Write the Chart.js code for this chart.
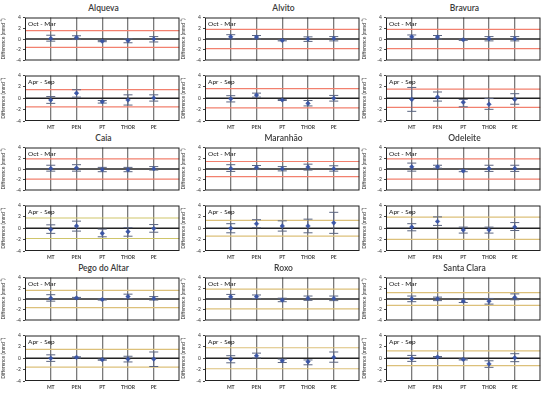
<!DOCTYPE html>
<html lang="en">
<head>
    <meta charset="UTF-8">
    <title>Difference per reservoir</title>
    <script src="https://cdn.jsdelivr.net/npm/chart.js"></script>
    <style>
        body {
            margin: 0;
            background-color: #ffffff;
            width: 550px;
            height: 396px;
            position: relative;
            overflow: hidden;
            font-family: Lato, "Open Sans", sans-serif;
        }
        canvas {
            position: absolute;
        }
        .title {
            position: absolute;
            width: 157px;
            text-align: center;
            font-size: 8.5px;
            font-weight: 600;
            color: #3a3a3a;
            line-height: 10px;
        }
    </style>
</head>
<body>
    <script>
        // categorias e sitios
        const categories = ['MT', 'PEN', 'PT', 'THOR', 'PE'];
        const sites = ['Alqueva', 'Alvito', 'Bravura', 'Caia', 'Maranhão', 'Odeleite', 'Pego do Altar', 'Roxo', 'Santa Clara'];
        const seasons = ['Oct - Mar', 'Apr - Sep'];

        // Oct - Mar: media, max, min por sitio
        const meanOctMar = [
            [0.1, 0.3, -0.4, -0.3, 0.0],
            [0.4, 0.35, -0.25, 0.0, 0.1],
            [0.4, 0.35, -0.15, 0.05, 0.05],
            [0.1, 0.2, -0.1, -0.15, 0.05],
            [0.1, 0.3, 0.05, 0.35, 0.05],
            [0.4, 0.4, -0.35, 0.1, 0.1],
            [0.15, 0.2, -0.1, 0.45, 0.1],
            [0.4, 0.45, -0.2, 0.15, 0.1],
            [0.05, 0.05, -0.4, -0.4, 0.3]
        ];
        const hiOctMar = [
            [0.7, 0.6, -0.25, 0.05, 0.45],
            [0.8, 0.65, -0.15, 0.4, 0.45],
            [0.75, 0.65, -0.05, 0.45, 0.45],
            [0.7, 0.8, 0.3, 0.3, 0.45],
            [0.8, 0.65, 0.45, 0.9, 0.6],
            [1.1, 0.7, -0.1, 0.7, 0.7],
            [0.8, 0.3, 0.0, 0.9, 0.45],
            [0.85, 0.75, 0.15, 0.55, 0.55],
            [0.55, 0.35, -0.05, 0.1, 0.95]
        ];
        const loOctMar = [
            [-0.4, -0.1, -0.5, -0.7, -0.55],
            [0.0, 0.0, -0.35, -0.45, -0.35],
            [0.1, 0.0, -0.25, -0.35, -0.35],
            [-0.4, -0.4, -0.5, -0.5, -0.2],
            [-0.45, -0.1, -0.35, -0.2, -0.4],
            [-0.4, 0.15, -0.5, -0.45, -0.45],
            [-0.4, 0.1, -0.2, 0.05, -0.2],
            [-0.05, 0.1, -0.5, -0.25, -0.3],
            [-0.5, -0.3, -0.65, -0.95, -0.15]
        ];

        // Apr - Sep: media, max, min por sitio
        const meanAprSep = [
            [-0.3, 0.9, -0.6, -0.3, 0.05],
            [-0.1, 0.55, -0.3, -0.9, 0.0],
            [-0.2, 0.2, -0.7, -1.05, -0.2],
            [-0.2, 0.4, -0.9, -0.6, -0.05],
            [0.0, 0.8, 0.4, 0.4, 0.95],
            [0.2, 1.2, -0.3, -0.3, 0.2],
            [0.0, 0.15, -0.25, -0.15, -0.15],
            [-0.15, 0.45, -0.45, -0.6, 0.15],
            [-0.05, 0.2, -0.2, -1.0, 0.1]
        ];
        const hiAprSep = [
            [0.3, 1.5, -0.4, 0.6, 0.6],
            [0.45, 0.9, -0.2, -0.4, 0.5],
            [1.9, 1.1, -0.2, -0.05, 0.8],
            [0.6, 1.25, -0.15, 0.1, 0.65],
            [0.8, 1.5, 1.3, 1.6, 2.8],
            [0.8, 2.0, 0.2, 0.2, 1.0],
            [0.6, 0.25, -0.15, 0.35, 1.1],
            [0.45, 0.9, -0.15, -0.3, 1.1],
            [0.5, 0.3, -0.1, -0.45, 0.8]
        ];
        const loAprSep = [
            [-0.9, 0.2, -0.85, -1.2, -0.5],
            [-0.65, 0.2, -0.4, -1.35, -0.5],
            [-2.3, -0.5, -1.5, -1.95, -1.05],
            [-0.9, -0.5, -1.5, -1.4, -0.7],
            [-0.8, 0.1, -0.5, -0.8, -0.9],
            [-0.45, 0.5, -0.85, -0.85, -0.4],
            [-0.55, 0.05, -0.35, -0.65, -1.45],
            [-0.8, 0.05, -0.75, -1.15, -0.7],
            [-0.55, 0.1, -0.3, -1.6, -0.6]
        ];

        // limites (linhas horizontais +/-)
        const limitOctMar = [1.55, 1.8, 1.8, 1.9, 1.4, 1.9, 1.6, 1.85, 1.2];
        const limitAprSep = [1.5, 1.7, 1.6, 1.8, 1.4, 1.95, 1.55, 1.85, 1.3];

        // cores das linhas de limite
        const RED = '#f2806e';
        const TAN = '#dcc07a';
        const OLIVE = '#cfc56a';
        const colourOctMar = [RED, RED, RED, RED, RED, RED, TAN, TAN, TAN];
        const colourAprSep = [RED, RED, RED, OLIVE, TAN, TAN, TAN, TAN, TAN];

        // posicoes do layout
        const colLeft = [25, 205, 386];
        const rowTop = [15, 145, 275];
        const plotW = 157;
        const plotH = 48;
        const subGap = 10;

        // moldura + rotulo da estacao
        const framePlugin = {
            id: 'frame',
            afterDraw(chart, args, opts) {
                const a = chart.chartArea;
                const c = chart.ctx;
                c.save();
                c.strokeStyle = '#222';
                c.lineWidth = 1;
                c.strokeRect(a.left + 0.5, a.top + 0.5, a.right - a.left - 1, a.bottom - a.top - 1);
                c.fillStyle = '#111';
                c.font = '6.5px Lato, sans-serif';
                c.textBaseline = 'top';
                c.fillText(opts.label, a.left + 3, a.top + 3);
                c.restore();
            }
        };

        function makeSub(siteIdx, seasonIdx, left, top, isBottom) {
            const mean = seasonIdx === 0 ? meanOctMar[siteIdx] : meanAprSep[siteIdx];
            const hi = seasonIdx === 0 ? hiOctMar[siteIdx] : hiAprSep[siteIdx];
            const lo = seasonIdx === 0 ? loOctMar[siteIdx] : loAprSep[siteIdx];
            const lim = seasonIdx === 0 ? limitOctMar[siteIdx] : limitAprSep[siteIdx];
            const limColour = seasonIdx === 0 ? colourOctMar[siteIdx] : colourAprSep[siteIdx];

            const xh = isBottom ? 12 : 3;
            const canvas = document.createElement('canvas');
            canvas.width = 25 + plotW + 3;
            canvas.height = 3 + plotH + xh;
            canvas.style.left = (left - 25) + 'px';
            canvas.style.top = (top - 3) + 'px';
            document.body.appendChild(canvas);

            const meanPts = mean.map((v, i) => ({ x: i + 1, y: v }));
            const barPts = [];
            categories.forEach((c, i) => {
                barPts.push({ x: i + 1, y: lo[i] });
                barPts.push({ x: i + 1, y: hi[i] });
                barPts.push({ x: i + 1, y: null });
            });

            new Chart(canvas.getContext('2d'), {
                type: 'scatter',
                data: {
                    datasets: [
                        {
                            data: meanPts,
                            pointStyle: 'rectRot',
                            pointRadius: 2.3,
                            backgroundColor: '#3a55a5',
                            borderColor: '#3a55a5',
                            borderWidth: 0.5
                        },
                        {
                            data: barPts,
                            showLine: true,
                            spanGaps: false,
                            borderColor: '#5b6580',
                            borderWidth: 1,
                            pointStyle: 'line',
                            pointRadius: 4.5,
                            pointBorderColor: '#5b6580',
                            pointBorderWidth: 1
                        },
                        {
                            data: [{ x: 0, y: 0 }, { x: 6, y: 0 }],
                            showLine: true,
                            borderColor: '#222',
                            borderWidth: 1.6,
                            pointRadius: 0
                        },
                        {
                            data: [{ x: 0, y: lim }, { x: 6, y: lim }],
                            showLine: true,
                            borderColor: limColour,
                            borderWidth: 1.2,
                            pointRadius: 0
                        },
                        {
                            data: [{ x: 0, y: -lim }, { x: 6, y: -lim }],
                            showLine: true,
                            borderColor: limColour,
                            borderWidth: 1.2,
                            pointRadius: 0
                        }
                    ]
                },
                options: {
                    responsive: false,
                    animation: false,
                    devicePixelRatio: 1,
                    layout: { padding: { top: 3, right: 3, left: 0, bottom: 0 } },
                    plugins: {
                        legend: { display: false },
                        tooltip: { enabled: false },
                        frame: { label: seasons[seasonIdx] }
                    },
                    scales: {
                        x: {
                            type: 'linear',
                            min: 0,
                            max: 6,
                            afterBuildTicks: (s) => { s.ticks = categories.map((c, i) => ({ value: i + 1 })); },
                            afterFit: (s) => { s.height = xh; },
                            grid: { color: '#7a7a7a', lineWidth: 1.3, drawTicks: false },
                            border: { display: false },
                            ticks: {
                                display: isBottom,
                                padding: 3,
                                maxRotation: 0,
                                font: { size: 5, weight: 'bold', family: 'Lato' },
                                color: '#444',
                                callback: (v) => categories[v - 1]
                            }
                        },
                        y: {
                            min: -4,
                            max: 4,
                            afterFit: (s) => { s.width = 25; },
                            grid: { drawOnChartArea: false, tickLength: 2, color: '#444' },
                            border: { display: false },
                            ticks: {
                                stepSize: 2,
                                padding: 2,
                                font: { size: 5, family: 'Lato' },
                                color: '#333'
                            },
                            title: {
                                display: true,
                                text: 'Difference (mmd\u207B\u00B9)',
                                font: { size: 5, family: 'Lato' },
                                color: '#333',
                                padding: 0
                            }
                        }
                    }
                },
                plugins: [framePlugin]
            });
        }

        sites.forEach((name, k) => {
            const col = k % 3;
            const row = Math.floor(k / 3);
            const left = colLeft[col];
            const top = rowTop[row];

            const t = document.createElement('div');
            t.className = 'title';
            t.textContent = name;
            t.style.left = left + 'px';
            t.style.top = (top - 12) + 'px';
            document.body.appendChild(t);

            makeSub(k, 0, left, top, false);
            makeSub(k, 1, left, top + plotH + subGap, true);
        });
    </script>
</body>
</html>
